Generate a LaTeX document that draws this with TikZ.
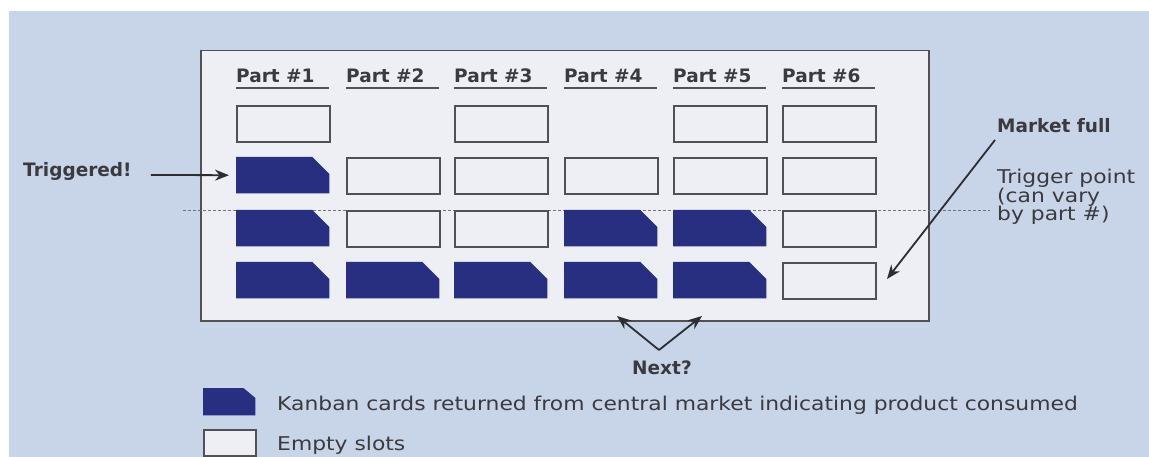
\documentclass[tikz,border=0pt]{standalone}
\usepackage{fontspec}
\usetikzlibrary{arrows.meta}
\newfontfamily\regfont[FakeStretch=1.15]{DejaVu Sans}
\newfontfamily\boldfont{DejaVu Sans}
\definecolor{bgblue}{RGB}{200,212,232}
\definecolor{boxfill}{RGB}{237,239,244}
\definecolor{navy}{RGB}{40,47,128}
\definecolor{textgray}{RGB}{58,58,64}
\definecolor{linegray}{RGB}{80,80,85}
\definecolor{arrowgray}{RGB}{45,45,50}
\begin{document}
\begin{tikzpicture}[x=1pt,y=-1pt,
  txt/.style={inner sep=0pt, anchor=base west, text=textgray},
  boldtxt/.style={txt, font=\boldfont\bfseries\fontsize{18.5}{18.5}\selectfont},
  regtxt/.style={txt, font=\regfont\fontsize{19}{19}\selectfont},
  slotbox/.style={rectangle, draw=linegray, line width=2.2pt, fill=boxfill, minimum width=93pt, minimum height=36pt, inner sep=0pt, anchor=north west},
  cardspot/.style={rectangle, minimum width=93pt, minimum height=36pt, inner sep=0pt, anchor=north west},
  arr/.style={-{Stealth[length=14pt,width=11pt]}, line width=1.8pt, draw=arrowgray},
  underl/.style={line width=2.2pt, draw=linegray},
  trigline/.style={dash pattern=on 3pt off 2pt, line width=1pt, draw=linegray!80}]
\useasboundingbox (0,0) rectangle (1149,457);
\fill[white] (0,0) rectangle (1149,457);
\fill[bgblue] (9,11) rectangle (1149,457);
% market board
\node[rectangle, draw=linegray, line width=1.5pt, fill=boxfill, minimum width=728pt, minimum height=270pt, inner sep=0pt, anchor=north west] (market) at (200,50) {};
% trigger line
\coordinate (tl1) at (183,211);
\coordinate (tl2) at (990,211);
\draw[trigline] (tl1) -- (tl2);
% headers
\foreach \i/\x in {1/236,2/346,3/454,4/564,5/673,6/782}{
  \node[boldtxt] (h\i) at (\x,83) {Part \#\i};
  \draw[underl] (\x,88) -- (\x+93,88);
}
% slot positions (row/col)
\foreach \r/\y in {1/105,2/157,3/210,4/262}{
  \foreach \c/\x in {1/236,2/346,3/454,4/564,5/673,6/782}{
    \coordinate (p\r\c) at (\x,\y);
  }
}
% empty slots
\foreach \n in {11,13,15,16,22,23,24,25,26,32,33,36,46}{
  \node[slotbox] (s\n) at (p\n) {};
}
% kanban cards
\foreach \n in {21,31,34,35,41,42,43,44,45}{
  \node[cardspot] (k\n) at (p\n) {};
  \fill[navy] (k\n.south west) -- (k\n.north west) -- ([xshift=-17pt]k\n.north east)
     -- ([yshift=-17pt]k\n.north east) -- (k\n.south east) -- cycle;
}
% Triggered!
\node[boldtxt] (trig) at (23,177) {Triggered!};
\draw[arr] ([xshift=19pt,yshift=-3pt]trig.east) -- ([xshift=-7pt]k21.west);
% Market full
\node[boldtxt] (mfull) at (997,133) {Market full};
\coordinate (mfs) at (995,140);
\coordinate (mft) at (887,279);
\draw[arr] (mfs) -- (mft);
% Trigger point
\node[regtxt] (tp1) at (997,184) {Trigger point};
\node[regtxt] (tp2) at (997,202.5) {(can vary};
\node[regtxt] (tp3) at (997,221) {by part \#)};
% Next?
\node[boldtxt] (next) at (632,374) {Next?};
\coordinate (apex) at (659,350);
\coordinate (nl) at (617,316);
\coordinate (nr) at (702,316);
\draw[arr] (apex) -- (nl);
\draw[arr] (apex) -- (nr);
% legend
\node[rectangle, minimum width=52pt, minimum height=27pt, inner sep=0pt, anchor=north west] (lk) at (203,388) {};
\fill[navy] (lk.south west) -- (lk.north west) -- ([xshift=-12pt]lk.north east)
   -- ([yshift=-10pt]lk.north east) -- (lk.south east) -- cycle;
\node[rectangle, draw=linegray, line width=2.2pt, fill=boxfill, minimum width=52pt, minimum height=26pt, inner sep=0pt, anchor=north west] (le) at (203,429) {};
\node[regtxt] (lkt) at (277,410) {Kanban cards returned from central market indicating product consumed};
\node[regtxt] (let) at (277,450) {Empty slots};
\end{tikzpicture}
\end{document}
